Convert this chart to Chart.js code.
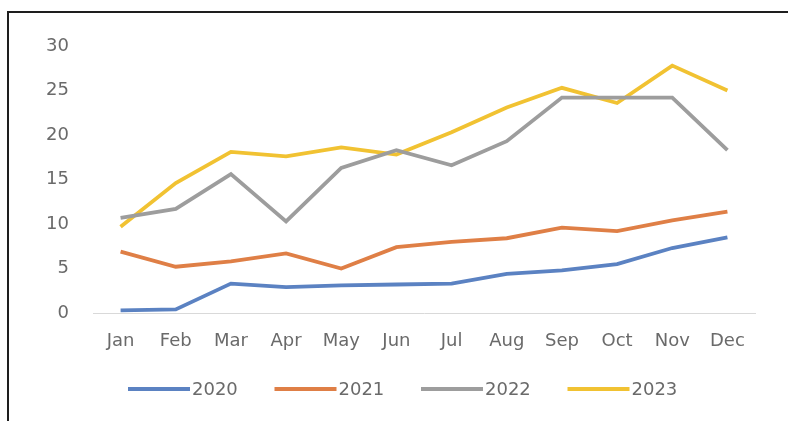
<!DOCTYPE html>
<html>
<head>
<meta charset="utf-8">
<title>Monthly values 2020-2023</title>
<script src="https://cdn.jsdelivr.net/npm/chart.js@4.4.1/dist/chart.umd.min.js"></script>
<style>
  html, body { margin: 0; padding: 0; background: #fff; overflow: hidden; }
  #wrap { position: relative; width: 788px; height: 421px; }
  #frame {
    position: absolute; left: 7px; top: 11px; right: -4px; bottom: -4px;
    border-left: 2px solid #1e1e1e; border-top: 2px solid #1e1e1e;
  }
  #chart { position: absolute; left: 0; top: 0; }
</style>
</head>
<body>
<div id="wrap">
  <div id="frame"></div>
  <canvas id="chart" width="788" height="421"></canvas>
</div>
<script>
(function () {
  "use strict";

  // Categories and series
  const months = ['Jan', 'Feb', 'Mar', 'Apr', 'May', 'Jun', 'Jul', 'Aug', 'Sep', 'Oct', 'Nov', 'Dec'];
  const years = ['2020', '2021', '2022', '2023'];
  const values2020 = [0.3, 0.4, 3.3, 2.9, 3.1, 3.2, 3.3, 4.4, 4.8, 5.5, 7.3, 8.5];
  const values2021 = [6.9, 5.2, 5.8, 6.7, 5.0, 7.4, 8.0, 8.4, 9.6, 9.2, 10.4, 11.4];
  const values2022 = [10.7, 11.7, 15.6, 10.3, 16.3, 18.3, 16.6, 19.3, 24.2, 24.2, 24.2, 18.3];
  const values2023 = [9.7, 14.6, 18.1, 17.6, 18.6, 17.8, 20.3, 23.1, 25.3, 23.6, 27.8, 25.0];
  const yTicks = [0, 5, 10, 15, 20, 25, 30];

  const seriesColors = ['#5b82c2', '#df7f46', '#9d9d9d', '#f1c232'];
  const textColor = '#6a6a6a';
  const fontFamily = '"DejaVu Sans", sans-serif';

  const allValues = [values2020, values2021, values2022, values2023];

  // Legend drawn below the axis: line sample followed by the year
  const bottomKey = {
    id: 'bottomKey',
    afterDraw(chart) {
      const ctx = chart.ctx;
      const startX = 128, step = 146.5, lineLen = 62, keyY = 389;
      ctx.save();
      ctx.font = '18px ' + fontFamily;
      ctx.textBaseline = 'middle';
      ctx.textAlign = 'left';
      chart.data.datasets.forEach(function (ds, i) {
        const x0 = startX + i * step;
        ctx.strokeStyle = ds.borderColor;
        ctx.lineWidth = ds.borderWidth;
        ctx.beginPath();
        ctx.moveTo(x0, keyY);
        ctx.lineTo(x0 + lineLen, keyY);
        ctx.stroke();
        ctx.fillStyle = textColor;
        ctx.fillText(ds.label, x0 + lineLen + 2, keyY + 1);
      });
      ctx.restore();
    }
  };

  const ctx = document.getElementById('chart').getContext('2d');
  new Chart(ctx, {
    type: 'line',
    data: {
      labels: months,
      datasets: years.map(function (y, i) {
        return {
          label: y,
          data: allValues[i],
          borderColor: seriesColors[i],
          backgroundColor: seriesColors[i],
          borderWidth: 3.8,
          pointRadius: 0,
          tension: 0,
          fill: false
        };
      })
    },
    options: {
      responsive: false,
      animation: false,
      layout: { padding: { left: 30, right: 33, top: 46, bottom: 60 } },
      scales: {
        x: {
          offset: true,
          grid: { display: false, drawTicks: false },
          border: { display: true, color: '#d9d9d9', width: 1 },
          ticks: {
            color: textColor,
            font: { family: fontFamily, size: 18 },
            padding: 18,
            maxRotation: 0,
            autoSkip: false
          },
          afterFit: function (scale) { scale.height = 48; }
        },
        y: {
          min: 0,
          max: 30,
          afterBuildTicks: function (scale) {
            scale.ticks = yTicks.map(function (v) { return { value: v }; });
          },
          grid: { display: false, drawTicks: false },
          border: { display: false },
          ticks: {
            color: textColor,
            font: { family: fontFamily, size: 18 },
            padding: 24
          },
          afterFit: function (scale) { scale.width = 63; }
        }
      },
      plugins: {
        legend: { display: false },
        tooltip: { enabled: false }
      }
    },
    plugins: [bottomKey]
  });
})();
</script>
</body>
</html>
